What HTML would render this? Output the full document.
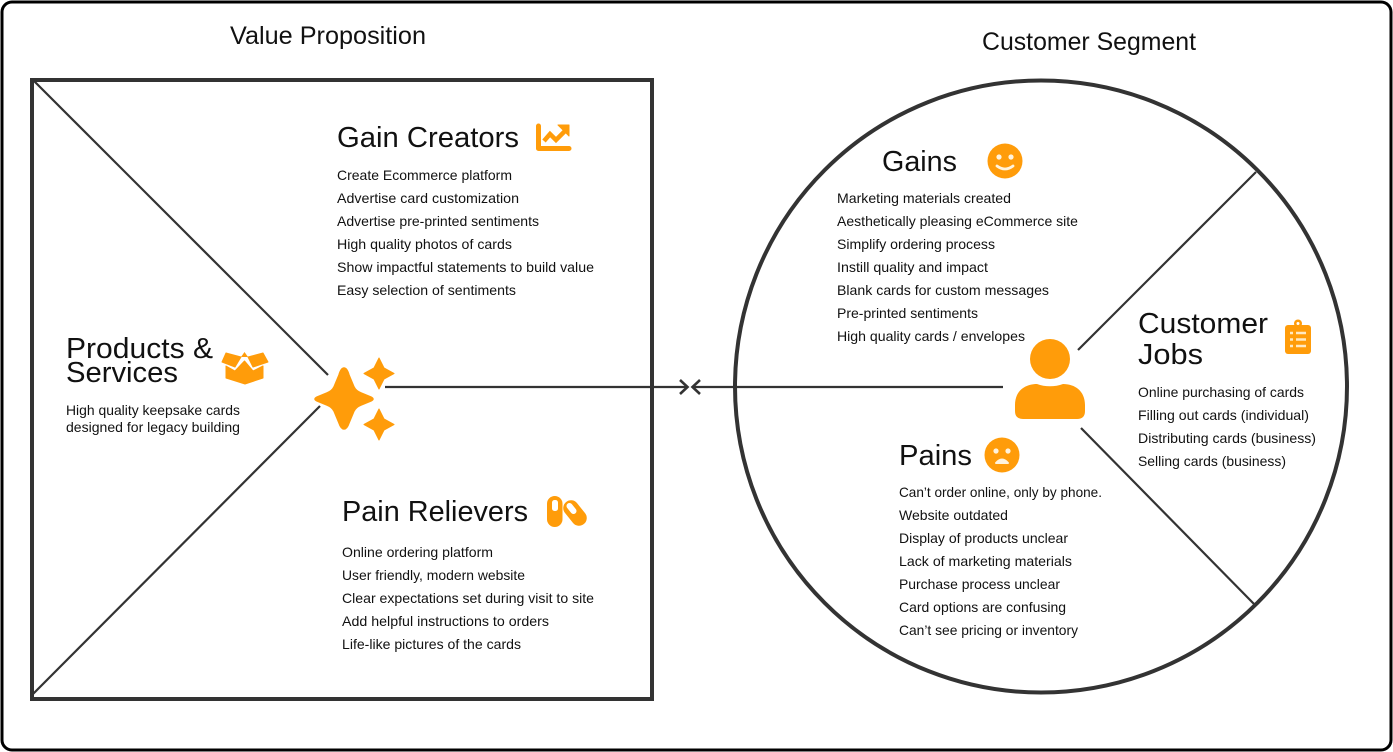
<!DOCTYPE html>
<html><head><meta charset="utf-8"><style>
html,body{margin:0;padding:0;background:#fff;width:1393px;height:752px;overflow:hidden}
svg{display:block}
text{font-family:"Liberation Sans",sans-serif;fill:#111}
.b{font-size:14px}.h{font-size:29px}.t{font-size:25px}
</style></head><body>
<svg width="1393" height="752" viewBox="0 0 1393 752" xmlns="http://www.w3.org/2000/svg">
<rect width="1393" height="752" fill="#fff"/>
<rect x="2" y="2" width="1389" height="748" rx="10" fill="none" stroke="#000" stroke-width="3"/>
<rect x="32" y="80" width="620" height="619" fill="none" stroke="#333" stroke-width="4"/>
<circle cx="1041" cy="386.5" r="306" fill="none" stroke="#333" stroke-width="4"/>
<g stroke="#333" stroke-width="2.2" fill="none">
<line x1="33" y1="80" x2="328" y2="375"/>
<line x1="33" y1="694" x2="320" y2="406"/>
<line x1="1256" y1="172" x2="1078" y2="350"/>
<line x1="1255" y1="605" x2="1081" y2="428"/>
<line x1="385" y1="387" x2="687" y2="387"/>
<line x1="1003" y1="387" x2="693" y2="387"/>
<polyline points="680,380 687.5,387 680,394" stroke-width="2.6"/>
<polyline points="700,380 692.5,387 700,394" stroke-width="2.6"/>
</g>
<text class="t" x="230" y="44" textLength="196" lengthAdjust="spacingAndGlyphs">Value Proposition</text>
<text class="t" x="982" y="50" textLength="214" lengthAdjust="spacingAndGlyphs">Customer Segment</text>
<text class="h" x="337" y="147" textLength="182" lengthAdjust="spacingAndGlyphs">Gain Creators</text>
<text class="b" x="337" y="180" textLength="175" lengthAdjust="spacingAndGlyphs">Create Ecommerce platform</text>
<text class="b" x="337" y="203" textLength="182" lengthAdjust="spacingAndGlyphs">Advertise card customization</text>
<text class="b" x="337" y="226" textLength="202" lengthAdjust="spacingAndGlyphs">Advertise pre-printed sentiments</text>
<text class="b" x="337" y="249" textLength="175" lengthAdjust="spacingAndGlyphs">High quality photos of cards</text>
<text class="b" x="337" y="272" textLength="257" lengthAdjust="spacingAndGlyphs">Show impactful statements to build value</text>
<text class="b" x="337" y="295" textLength="179" lengthAdjust="spacingAndGlyphs">Easy selection of sentiments</text>
<text class="h" x="66" y="358" textLength="147" lengthAdjust="spacingAndGlyphs">Products &amp;</text>
<text class="h" x="66" y="382" textLength="112" lengthAdjust="spacingAndGlyphs">Services</text>
<text class="b" x="66" y="415" textLength="174" lengthAdjust="spacingAndGlyphs">High quality keepsake cards</text>
<text class="b" x="66" y="432" textLength="174" lengthAdjust="spacingAndGlyphs">designed for legacy building</text>
<text class="h" x="342" y="521" textLength="186" lengthAdjust="spacingAndGlyphs">Pain Relievers</text>
<text class="b" x="342" y="557" textLength="151" lengthAdjust="spacingAndGlyphs">Online ordering platform</text>
<text class="b" x="342" y="580" textLength="183" lengthAdjust="spacingAndGlyphs">User friendly, modern website</text>
<text class="b" x="342" y="603" textLength="252" lengthAdjust="spacingAndGlyphs">Clear expectations set during visit to site</text>
<text class="b" x="342" y="626" textLength="207" lengthAdjust="spacingAndGlyphs">Add helpful instructions to orders</text>
<text class="b" x="342" y="649" textLength="179" lengthAdjust="spacingAndGlyphs">Life-like pictures of the cards</text>
<text class="h" x="882" y="171" textLength="75" lengthAdjust="spacingAndGlyphs">Gains</text>
<text class="b" x="837" y="203" textLength="174" lengthAdjust="spacingAndGlyphs">Marketing materials created</text>
<text class="b" x="837" y="226" textLength="241" lengthAdjust="spacingAndGlyphs">Aesthetically pleasing eCommerce site</text>
<text class="b" x="837" y="249" textLength="158" lengthAdjust="spacingAndGlyphs">Simplify ordering process</text>
<text class="b" x="837" y="272" textLength="151" lengthAdjust="spacingAndGlyphs">Instill quality and impact</text>
<text class="b" x="837" y="295" textLength="212" lengthAdjust="spacingAndGlyphs">Blank cards for custom messages</text>
<text class="b" x="837" y="318" textLength="141" lengthAdjust="spacingAndGlyphs">Pre-printed sentiments</text>
<text class="b" x="837" y="341" textLength="188" lengthAdjust="spacingAndGlyphs">High quality cards / envelopes</text>
<text class="h" x="1138" y="333" textLength="130" lengthAdjust="spacingAndGlyphs">Customer</text>
<text class="h" x="1138" y="364" textLength="65" lengthAdjust="spacingAndGlyphs">Jobs</text>
<text class="b" x="1138" y="397" textLength="166" lengthAdjust="spacingAndGlyphs">Online purchasing of cards</text>
<text class="b" x="1138" y="420" textLength="171" lengthAdjust="spacingAndGlyphs">Filling out cards (individual)</text>
<text class="b" x="1138" y="443" textLength="178" lengthAdjust="spacingAndGlyphs">Distributing cards (business)</text>
<text class="b" x="1138" y="466" textLength="148" lengthAdjust="spacingAndGlyphs">Selling cards (business)</text>
<text class="h" x="899" y="465" textLength="73" lengthAdjust="spacingAndGlyphs">Pains</text>
<text class="b" x="899" y="497" textLength="203" lengthAdjust="spacingAndGlyphs">Can’t order online, only by phone.</text>
<text class="b" x="899" y="520" textLength="109" lengthAdjust="spacingAndGlyphs">Website outdated</text>
<text class="b" x="899" y="543" textLength="169" lengthAdjust="spacingAndGlyphs">Display of products unclear</text>
<text class="b" x="899" y="566" textLength="173" lengthAdjust="spacingAndGlyphs">Lack of marketing materials</text>
<text class="b" x="899" y="589" textLength="161" lengthAdjust="spacingAndGlyphs">Purchase process unclear</text>
<text class="b" x="899" y="612" textLength="167" lengthAdjust="spacingAndGlyphs">Card options are confusing</text>
<text class="b" x="899" y="635" textLength="179" lengthAdjust="spacingAndGlyphs">Can’t see pricing or inventory</text>
<g fill="#ff9c0a">
<path d="M344 368 Q347 368 349 375 L354 387 Q356 391 361 393 L371 397 Q375 399 371 401 L361 405 Q356 407 354 411 L349 423 Q347 429 344 429 Q341 429 339 423 L334 411 Q332 407 327 405 L317 401 Q313 399 317 397 L327 393 Q332 391 334 387 L339 375 Q341 368 344 368Z" stroke="#ff9c0a" stroke-width="1.5"/>
<path d="M379 358 L384 368 L394 373.500 L384 379 L379 389 L374 379 L364 373.500 L374 368Z" stroke="#ff9c0a" stroke-width="1" stroke-linejoin="round"/>
<path d="M379 409 L384 419 L394 424.500 L384 430 L379 440 L374 430 L364 424.500 L374 419Z" stroke="#ff9c0a" stroke-width="1" stroke-linejoin="round"/>
<circle cx="1050" cy="359" r="20"/>
<path d="M1015 411 L1015 405 C1015 391 1025 384 1037 384 C1045 387 1055 387 1063 384 C1075 384 1085 391 1085 405 L1085 411 Q1085 419 1077 419 L1023 419 Q1015 419 1015 411Z"/>
<rect x="1285" y="325" width="26" height="29" rx="3"/>
<circle cx="1298" cy="323.500" r="4"/>
<circle cx="1005" cy="161" r="17.500"/>
<circle cx="1002" cy="455" r="17.500"/>
<path d="M222 362 L226 353 L241 357 L235 367Z" stroke="#ff9c0a" stroke-width="1" stroke-linejoin="round"/>
<path d="M268 362 L263 353 L248 357 L253 367Z" stroke="#ff9c0a" stroke-width="1" stroke-linejoin="round"/>
<path d="M226 366 L235 371 L244.500 361 L253 371 L263 366 L263 378 L245 384 L226 378Z" stroke="#ff9c0a" stroke-width="1" stroke-linejoin="round"/>
<path d="M241 357 L248 357 L244.500 352Z"/>
</g>
<circle cx="1298" cy="323.500" r="1.500" fill="#fff"/>
<g stroke="#ffe9c2" stroke-width="2.500">
<line x1="1296" y1="333" x2="1306" y2="333"/><line x1="1296" y1="339.500" x2="1306" y2="339.500"/><line x1="1296" y1="346" x2="1306" y2="346"/>
<line x1="1290" y1="333" x2="1293" y2="333"/><line x1="1290" y1="339.500" x2="1293" y2="339.500"/><line x1="1290" y1="346" x2="1293" y2="346"/>
</g>
<g fill="#fff3dd">
<circle cx="999" cy="157" r="2.600"/><circle cx="1011" cy="157" r="2.600"/>
<circle cx="996" cy="451" r="2.600"/><circle cx="1008" cy="451" r="2.600"/>
</g>
<path d="M997 166 Q1005 172 1013 166" fill="none" stroke="#fff3dd" stroke-width="2.800" stroke-linecap="round"/>
<path d="M996 463 Q1002 456 1008 463Z" fill="#fff3dd" stroke="#fff3dd" stroke-width="2" stroke-linejoin="round"/>
<path d="M538.500 126 V148.500 H569" fill="none" stroke="#ff9c0a" stroke-width="5" stroke-linejoin="round" stroke-linecap="round"/>
<path d="M544 141 L550 134 L556 140 L566 130" fill="none" stroke="#ff9c0a" stroke-width="4.500"/>
<path d="M558 125 H569 V136Z" fill="#ff9c0a" stroke="#ff9c0a" stroke-width="1" stroke-linejoin="round"/>
<rect x="547" y="496" width="15.500" height="31" rx="7.750" fill="#ff9c0a"/>
<rect x="552" y="500" width="6" height="11" rx="2.500" fill="#fff"/>
<line x1="571" y1="508" x2="579" y2="518" stroke="#ff9c0a" stroke-width="15.500" stroke-linecap="round"/>
<line x1="569.500" y1="506" x2="573.500" y2="511" stroke="#fff" stroke-width="6" stroke-linecap="round"/>
</svg>
</body></html>
